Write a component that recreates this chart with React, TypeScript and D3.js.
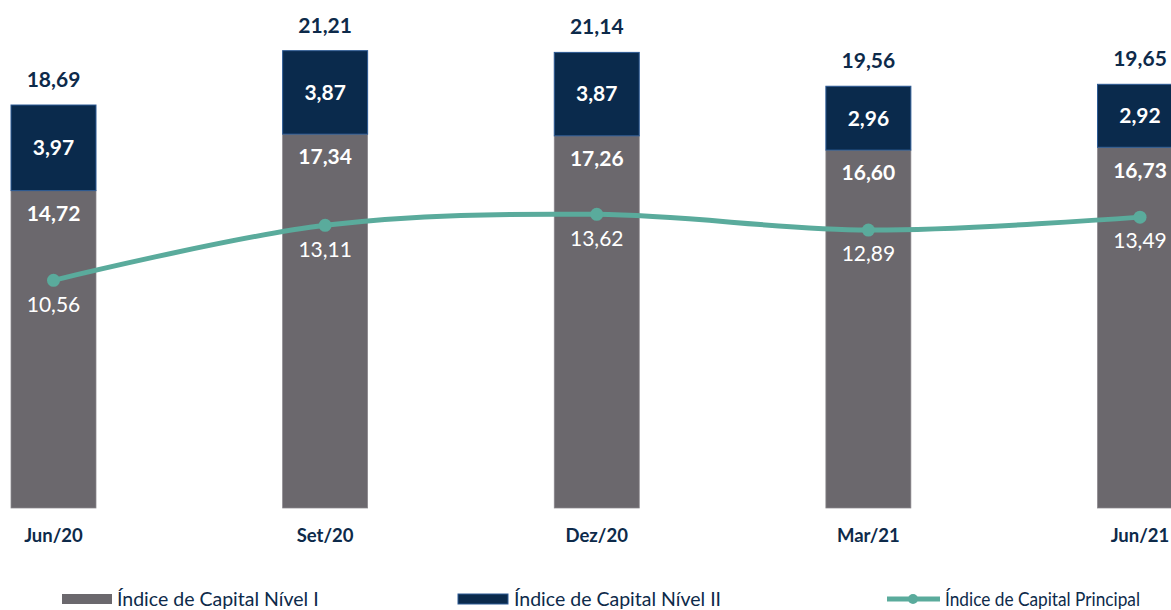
import * as d3 from 'd3';
import { useEffect, useRef } from 'react';

const categories = ['Jun/20', 'Set/20', 'Dez/20', 'Mar/21', 'Jun/21'];
const nivel1 = [14.72, 17.34, 17.26, 16.6, 16.73];
const nivel2 = [3.97, 3.87, 3.87, 2.96, 2.92];
const totals = [18.69, 21.21, 21.14, 19.56, 19.65];
const principal = [10.56, 13.11, 13.62, 12.89, 13.49];

const fmt = (v: number) => v.toFixed(2).replace('.', ',');

const GREY = '#6b686d';
const NAVY = '#0a2a4c';
const TEAL = '#5aab9c';
const TEXT = '#0d2a4a';
const FONT = 'Lato, "Open Sans", sans-serif';

export default function App() {
  const ref = useRef<SVGSVGElement>(null);

  useEffect(() => {
    const svg = d3.select(ref.current);
    svg.selectAll('*').remove();

    const x = d3.scalePoint<string>().domain(categories).range([53.5, 1140]);
    const y = d3.scaleLinear().domain([0, 23.56]).range([508, 0]);
    const bw = 85;

    const g = svg.append('g');

    // nivel I segments
    g.selectAll('rect.n1')
      .data(categories)
      .join('rect')
      .attr('class', 'n1')
      .attr('x', (d) => x(d)! - bw / 2)
      .attr('width', bw)
      .attr('y', (d, i) => y(nivel1[i]))
      .attr('height', (d, i) => y(0) - y(nivel1[i]))
      .attr('fill', GREY)
      .attr('stroke', '#8a878c')
      .attr('stroke-width', 0.75);

    // nivel II segments
    g.selectAll('rect.n2')
      .data(categories)
      .join('rect')
      .attr('class', 'n2')
      .attr('x', (d) => x(d)! - bw / 2)
      .attr('width', bw)
      .attr('y', (d, i) => y(nivel1[i] + nivel2[i]))
      .attr('height', (d, i) => y(nivel1[i]) - y(nivel1[i] + nivel2[i]))
      .attr('fill', NAVY)
      .attr('stroke', '#2c5a94')
      .attr('stroke-width', 1);

    // totals
    g.selectAll('text.tot')
      .data(categories)
      .join('text')
      .attr('class', 'tot')
      .attr('x', (d) => x(d)!)
      .attr('y', (d, i) => y(totals[i]) - 18)
      .attr('text-anchor', 'middle')
      .attr('font-family', FONT)
      .attr('font-weight', 700)
      .attr('font-size', 21)
      .attr('fill', TEXT)
      .text((d, i) => fmt(totals[i]));

    // nivel II labels
    g.selectAll('text.l2')
      .data(categories)
      .join('text')
      .attr('class', 'l2')
      .attr('x', (d) => x(d)!)
      .attr('y', (d, i) => (y(nivel1[i]) + y(nivel1[i] + nivel2[i])) / 2)
      .attr('dy', '0.35em')
      .attr('text-anchor', 'middle')
      .attr('font-family', FONT)
      .attr('font-weight', 700)
      .attr('font-size', 21)
      .attr('fill', '#ffffff')
      .text((d, i) => fmt(nivel2[i]));

    // nivel I labels
    g.selectAll('text.l1')
      .data(categories)
      .join('text')
      .attr('class', 'l1')
      .attr('x', (d) => x(d)!)
      .attr('y', (d, i) => y(nivel1[i]) + 23)
      .attr('dy', '0.35em')
      .attr('text-anchor', 'middle')
      .attr('font-family', FONT)
      .attr('font-weight', 700)
      .attr('font-size', 21)
      .attr('fill', '#ffffff')
      .text((d, i) => fmt(nivel1[i]));

    // principal line
    const line = d3
      .line<number>()
      .x((d, i) => x(categories[i])!)
      .y((d) => y(d))
      .curve(d3.curveCatmullRom.alpha(0.5));

    g.append('path')
      .datum(principal)
      .attr('d', line)
      .attr('fill', 'none')
      .attr('stroke', TEAL)
      .attr('stroke-width', 5)
      .attr('stroke-linecap', 'round');

    g.selectAll('circle.pt')
      .data(principal)
      .join('circle')
      .attr('class', 'pt')
      .attr('cx', (d, i) => x(categories[i])!)
      .attr('cy', (d) => y(d))
      .attr('r', 6.5)
      .attr('fill', TEAL);

    g.selectAll('text.lp')
      .data(principal)
      .join('text')
      .attr('class', 'lp')
      .attr('x', (d, i) => x(categories[i])!)
      .attr('y', (d) => y(d) + 24)
      .attr('dy', '0.35em')
      .attr('text-anchor', 'middle')
      .attr('font-family', FONT)
      .attr('font-size', 21)
      .attr('fill', '#ffffff')
      .text((d) => fmt(d));

    // x axis labels
    g.selectAll('text.xl')
      .data(categories)
      .join('text')
      .attr('class', 'xl')
      .attr('x', (d) => x(d)!)
      .attr('y', 536)
      .attr('dy', '0.35em')
      .attr('text-anchor', 'middle')
      .attr('font-family', FONT)
      .attr('font-weight', 700)
      .attr('font-size', 18.5)
      .attr('fill', TEXT)
      .text((d) => d);

    // legend
    const lg = svg.append('g').attr('font-family', FONT).attr('font-size', 19.5).attr('fill', TEXT);
    const ly = 599;
    lg.append('rect').attr('x', 62).attr('y', ly - 5).attr('width', 50).attr('height', 10).attr('fill', GREY);
    lg.append('text').attr('x', 117).attr('y', ly).attr('dy', '0.35em').text('Índice de Capital Nível I');
    lg.append('rect').attr('x', 458).attr('y', ly - 5).attr('width', 50).attr('height', 10).attr('fill', NAVY).attr('stroke', '#2c5a94');
    lg.append('text').attr('x', 514).attr('y', ly).attr('dy', '0.35em').text('Índice de Capital Nível II');
    lg.append('line').attr('x1', 887).attr('x2', 940).attr('y1', ly).attr('y2', ly).attr('stroke', TEAL).attr('stroke-width', 5);
    lg.append('circle').attr('cx', 913).attr('cy', ly).attr('r', 5).attr('fill', TEAL);
    lg.append('text')
      .attr('x', 945)
      .attr('y', ly)
      .attr('dy', '0.35em')
      .attr('textLength', 195)
      .attr('lengthAdjust', 'spacingAndGlyphs')
      .text('Índice de Capital Principal');
  }, []);

  return (
    <svg
      ref={ref}
      width={1171}
      height={610}
      style={{ position: 'absolute', left: 0, top: 0, background: '#fff' }}
    />
  );
}
